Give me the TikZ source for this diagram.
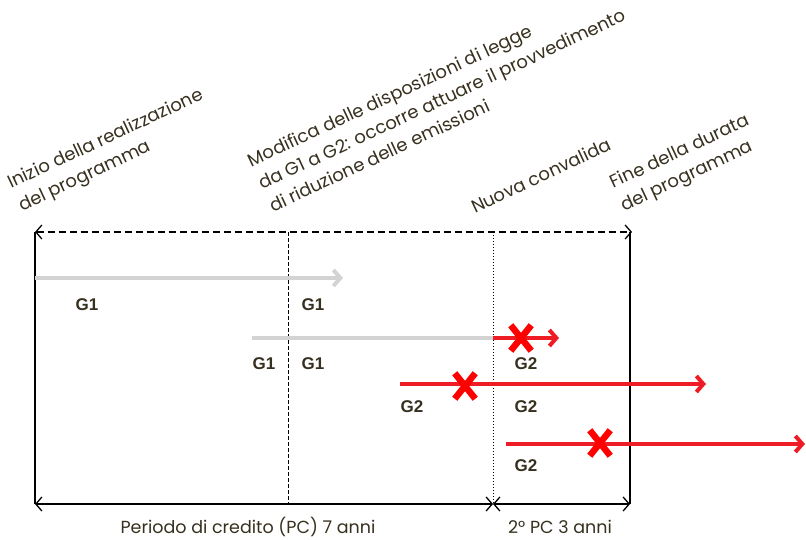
\documentclass[tikz,border=0pt]{standalone}
\usepackage{fontspec}
\setmainfont{Poppins}
\newfontfamily\gasfont{Liberation Sans}
\usetikzlibrary{positioning, arrows.meta, shapes.misc}
\definecolor{ink}{HTML}{37301F}
\definecolor{oldgrey}{HTML}{D3D3D3}
\definecolor{newred}{HTML}{EE1C25}
\definecolor{crossred}{HTML}{FF0000}
\tikzstyle{milestone} = [rotate=25, anchor=south west, align=left, inner sep=0pt, text=ink, font=\fontsize{18}{25}\selectfont]
\tikzstyle{gas} = [inner sep=0pt, text=ink, font=\gasfont\bfseries\fontsize{17}{17}\selectfont]
\tikzstyle{period} = [anchor=base, inner sep=0pt, text=ink, font=\fontsize{17.5}{17.5}\selectfont]
\tikzstyle{oldarrow} = [line width=4pt, draw=oldgrey, -{Straight Barb[length=7pt,width=16pt]}]
\tikzstyle{newarrow} = [line width=4pt, draw=newred, -{Straight Barb[length=7pt,width=16pt]}]
\tikzstyle{stop} = [cross out, draw=crossred, line width=6.5pt, minimum width=14pt, minimum height=19pt, inner sep=0pt]
\tikzstyle{span} = [line width=1.3pt, {Straight Barb[length=6pt,width=14pt]}-{Straight Barb[length=6pt,width=14pt]}]

\begin{document}
\begin{tikzpicture}[x=1pt,y=-1pt]
\useasboundingbox (0,0) rectangle (806,540);
\coordinate (tl) at (35,232);
\coordinate (tr) at (632,232);
\coordinate (bl) at (35,504);
\coordinate (bm) at (493,504);
\coordinate (br) at (630,504);
\coordinate (mt) at (288,232);
\coordinate (mb) at (288,504);
\coordinate (vt) at (493,232);
\coordinate (rt) at (630,232);
\draw[span, dashed, dash pattern=on 7pt off 4pt] (tl) -- (tr);
\draw[line width=1.3pt] (tl) -- (bl);
\draw[line width=1.3pt] (rt) -- (br);
\draw[line width=1pt, dash pattern=on 4pt off 2pt] (mt) -- (mb);
\draw[line width=1pt, dotted] (vt) -- (bm);
\draw[span] (bl) -- (bm);
\draw[span] (bm) -- (br);

\node[milestone] (start) at (24,216) {Inizio della realizzazione\\del programma};
\node[milestone] (change) at (273,213) {Modifica delle disposizioni di legge\\da G1 a G2: occorre attuare il provvedimento\\di riduzione delle emissioni};
\node[milestone] (revalid) at (475,214) {Nuova convalida};
\node[milestone] (finish) at (626,216) {Fine della durata\\del programma};

\coordinate (a1s) at (35,278);
\coordinate (a1e) at (343,278);
\coordinate (a2s) at (252,338);
\coordinate (a2m) at (493,338);
\coordinate (a2e) at (559,338);
\coordinate (a3s) at (400,384);
\coordinate (a3e) at (706,384);
\coordinate (a4s) at (506,444);
\coordinate (a4e) at (805,444);
\draw[oldarrow] (a1s) -- (a1e);
\draw[oldarrow, -] (a2s) -- (a2m);
\draw[newarrow] (a2m) -- (a2e);
\draw[newarrow] (a3s) -- (a3e);
\draw[newarrow] (a4s) -- (a4e);
\node[stop] (x1) at (521,338) {};
\node[stop] (x2) at (465,386) {};
\node[stop] (x3) at (600,443) {};

\node[gas] (g1a) at (87,305) {G1};
\node[gas] (g1b) at (313,305) {G1};
\node[gas] (g1c) at (264,364) {G1};
\node[gas] (g1d) at (313,364) {G1};
\node[gas] (g2a) at (526,364) {G2};
\node[gas] (g2b) at (412,407) {G2};
\node[gas] (g2c) at (526,407) {G2};
\node[gas] (g2d) at (526,466) {G2};

\node[period] (pc1) at (248,533) {Periodo di credito (PC) 7 anni};
\node[period] (pc2) at (560,533) {2° PC 3 anni};
\end{tikzpicture}
\end{document}
